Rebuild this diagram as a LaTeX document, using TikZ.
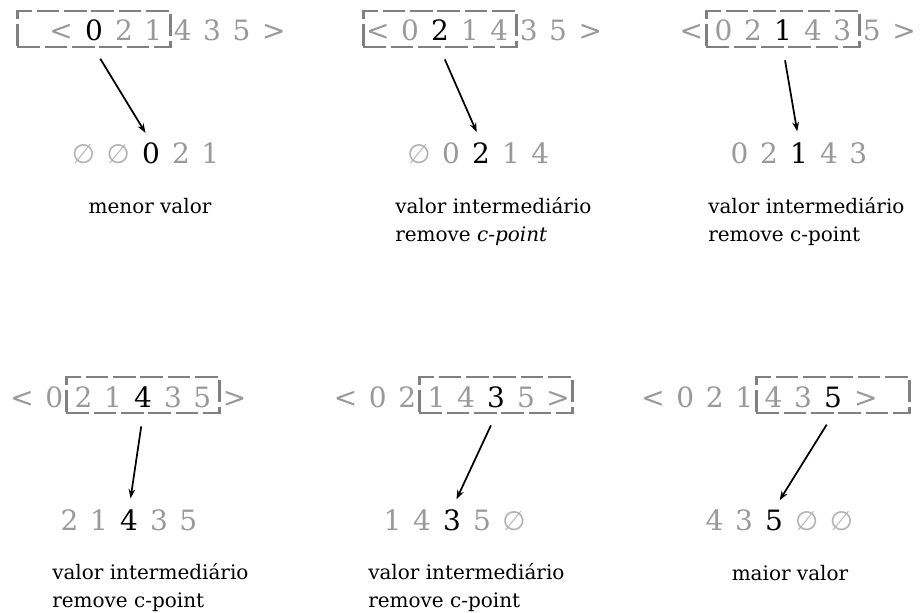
\documentclass[tikz,border=0pt]{standalone}
\usepackage{fontspec}
\setmainfont{DejaVu Serif}
\newfontfamily\symfont{DejaVu Sans}
\usetikzlibrary{positioning,arrows.meta}

\newcommand{\seqfont}{\fontsize{21}{25}\selectfont\spaceskip=8.7pt\relax}
\newcommand{\notefont}{\fontsize{15}{21}\selectfont}
\newcommand{\nil}{{\symfont\fontsize{20}{25}\selectfont ∅}}

\tikzset{
  seq/.style={font=\seqfont, text=black!40, inner sep=0pt},
  cur/.style={seq, text=black, anchor=base},
  window/.style={draw=black!50, line width=2.2pt, dash pattern=on 17pt off 3.5pt,
    minimum width=115pt, minimum height=27pt, inner sep=0pt},
  pick/.style={-{Stealth[length=7pt,width=5pt]}, line width=1.3pt,
    shorten <=9pt, shorten >=8pt},
  note/.style={font=\notefont, align=left, inner sep=0pt, anchor=base west}
}

\begin{document}
\begin{tikzpicture}[x=0.75pt, y=-0.75pt, node distance=8.7pt]
\useasboundingbox (0,0) rectangle (920,613);

% Window on the smallest value
\node[cur] (t1) at (94,41) {0};
\node[seq, base left=of t1] {<};
\node[seq, base right=of t1] {2 1 4 3 5 >};
\node[window] (w1) at ([yshift=9pt]t1.base) {};
\node[cur] (r1) at (151,163) {0};
\node[seq, base left=of r1, text=black!30] {\nil{} \nil};
\node[seq, base right=of r1] {2 1};
\draw[pick] (w1.south) -- (r1.north);
\node[note, anchor=base] (l1) at (150,213) {menor valor};

% Window on 2 (the base of a two-line note is its last line)
\node[cur] (t2) at (440,41) {2};
\node[seq, base left=of t2] {< 0};
\node[seq, base right=of t2] {1 4 3 5 >};
\node[window] (w2) at ([yshift=9pt]t2.base) {};
\node[cur] (r2) at (481,163) {2};
\node[seq, base left=of r2] {\textcolor{black!30}{\nil} 0};
\node[seq, base right=of r2] {1 4};
\draw[pick] (w2.south) -- (r2.north);
\node[note] (l2) at (395,241) {valor intermediário\\remove \textit{c-point}};

% Window on 1
\node[cur] (t3) at (783,41) {1};
\node[seq, base left=of t3] {< 0 2};
\node[seq, base right=of t3] {4 3 5 >};
\node[window] (w3) at ([yshift=9pt]t3.base) {};
\node[cur] (r3) at (799,163) {1};
\node[seq, base left=of r3] {0 2};
\node[seq, base right=of r3] {4 3};
\draw[pick] (w3.south) -- (r3.north);
\node[note] (l3) at (708,241) {valor intermediário\\remove c-point};

% Window on 4
\node[cur] (t4) at (143,407) {4};
\node[seq, base left=of t4] {< 0 2 1};
\node[seq, base right=of t4] {3 5 >};
\node[window] (w4) at ([yshift=9pt]t4.base) {};
\node[cur] (r4) at (129,530) {4};
\node[seq, base left=of r4] {2 1};
\node[seq, base right=of r4] {3 5};
\draw[pick] (w4.south) -- (r4.north);
\node[note] (l4) at (52,607) {valor intermediário\\remove c-point};

% Window on 3
\node[cur] (t5) at (496,407) {3};
\node[seq, base left=of t5] {< 0 2 1 4};
\node[seq, base right=of t5] {5 >};
\node[window] (w5) at ([yshift=9pt]t5.base) {};
\node[cur] (r5) at (452,530) {3};
\node[seq, base left=of r5] {1 4};
\node[seq, base right=of r5] {5 \textcolor{black!30}{\nil}};
\draw[pick] (w5.south) -- (r5.north);
\node[note] (l5) at (368,607) {valor intermediário\\remove c-point};

% Window on the largest value
\node[cur] (t6) at (833,407) {5};
\node[seq, base left=of t6] {< 0 2 1 4 3};
\node[seq, base right=of t6] {>};
\node[window] (w6) at ([yshift=9pt]t6.base) {};
\node[cur] (r6) at (774,530) {5};
\node[seq, base left=of r6] {4 3};
\node[seq, base right=of r6, text=black!30] {\nil{} \nil};
\draw[pick] (w6.south) -- (r6.north);
\node[note, anchor=base] (l6) at (790,580) {maior valor};

\end{tikzpicture}
\end{document}
